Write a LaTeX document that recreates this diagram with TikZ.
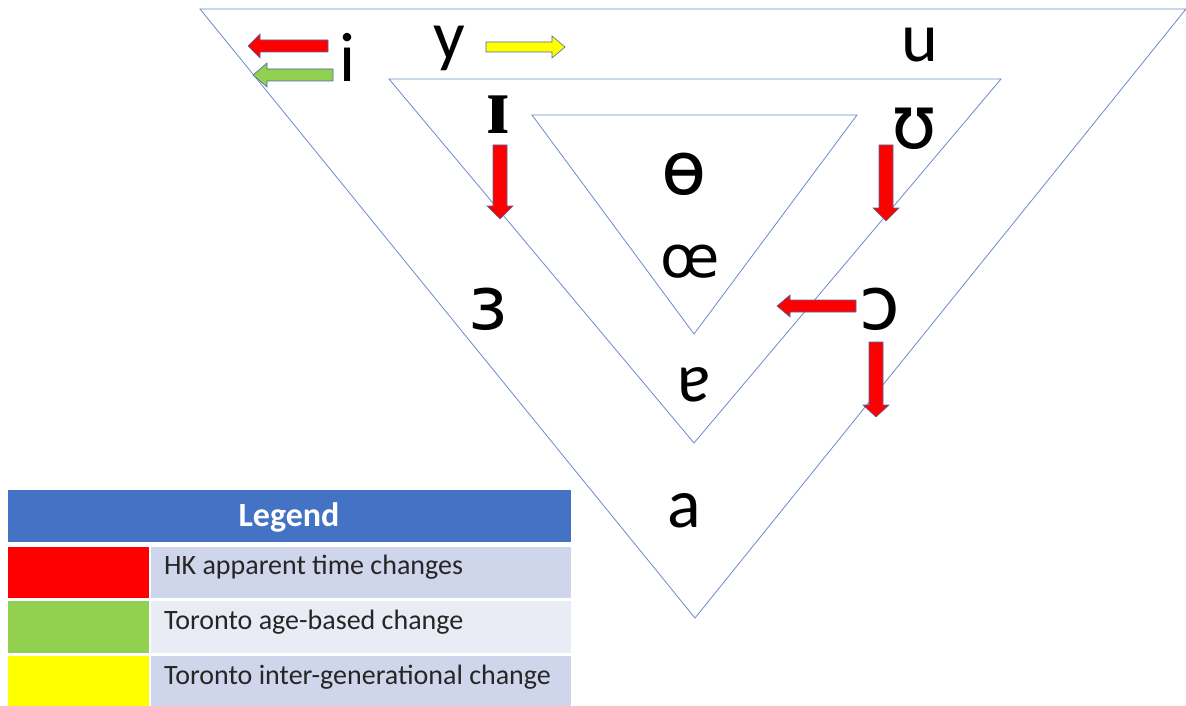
\documentclass[tikz,border=0pt]{standalone}
\usepackage{fontspec}
\setmainfont{Carlito}
\newfontfamily\ipafont{Carlito}
\newfontfamily\ipawide{DejaVu Sans}
\newfontfamily\serifipa{Liberation Serif}
\definecolor{triline}{HTML}{6A8BC8}
\definecolor{arrline}{HTML}{4A6AA8}
\definecolor{hkred}{HTML}{FF0000}
\definecolor{torgreen}{HTML}{92D050}
\definecolor{toryellow}{HTML}{FFFF00}
\definecolor{leghead}{HTML}{4472C4}
\definecolor{rowdark}{HTML}{CFD5EA}
\definecolor{rowlight}{HTML}{E9EBF5}
\tikzset{
  tri/.style={draw=triline, line width=0.8pt, line join=miter},
  vowel/.style={font=\ipafont\fontsize{70}{70}\selectfont, inner sep=0pt, text=black},
  widevowel/.style={vowel, font=\ipawide\fontsize{74}{74}\selectfont},
  blockarr/.style={draw=arrline, line width=0.6pt},
  legtext/.style={font=\fontsize{28}{28}\selectfont, text=black!85, anchor=west, inner sep=0pt}
}
\begin{document}
\begin{tikzpicture}[x=1pt,y=-1pt]
\useasboundingbox (0,0) rectangle (1186,706);
% triangles
\draw[tri] (200,9) -- (1186,9) -- (695,618) -- cycle;
\draw[tri] (389,79) -- (1001,79) -- (694,443) -- cycle;
\draw[tri] (532,115) -- (857,115) -- (694,334) -- cycle;
% vowels
\node[vowel] (i) at (348,57) {i};
\node[vowel] (y) at (449,48) {y};
\node[vowel] (u) at (920,45) {u};
\node[vowel, font=\serifipa\bfseries\fontsize{82}{82}\selectfont] (I) at (498,115) {ɪ};
\node[widevowel] (U) at (914,129) {ʊ};
\node[widevowel] (obar) at (684,174) {ɵ};
\node[vowel, font=\ipawide\fontsize{58}{58}\selectfont] (oe) at (690,262) {œ};
\node[widevowel] (E) at (488,309) {ɜ};
\node[widevowel] (O) at (880,309) {ɔ};
\node[vowel] (turna) at (694,385) {ɐ};
\node[vowel] (a) at (684,511) {a};
% block arrows
\filldraw[blockarr, fill=hkred] (328,40) -- (260,40) -- (260,34) -- (248,46) -- (260,58) -- (260,52) -- (328,52) -- cycle;
\filldraw[blockarr, fill=torgreen] (333,69) -- (267,69) -- (267,63) -- (253,75) -- (267,87) -- (267,81) -- (333,81) -- cycle;
\filldraw[blockarr, fill=toryellow] (486,42) -- (552,42) -- (552,36) -- (565,47) -- (552,58) -- (552,52) -- (486,52) -- cycle;
\filldraw[blockarr, fill=hkred] (493,145) -- (493,206) -- (487,206) -- (500,219) -- (513,206) -- (507,206) -- (507,145) -- cycle;
\filldraw[blockarr, fill=hkred] (879,145) -- (879,208) -- (873,208) -- (886,221) -- (899,208) -- (893,208) -- (893,145) -- cycle;
\filldraw[blockarr, fill=hkred] (856,300) -- (790,300) -- (790,295) -- (777,306) -- (790,317) -- (790,312) -- (856,312) -- cycle;
\filldraw[blockarr, fill=hkred] (869,342) -- (869,405) -- (863,405) -- (876,417) -- (889,405) -- (883,405) -- (883,342) -- cycle;
% legend
\fill[leghead] (8,490) rectangle (571,542);
\node[font=\bfseries\fontsize{34}{34}\selectfont, text=white] (legtitle) at (289,517) {Legend};
\fill[hkred] (8,547) rectangle (149,598);
\fill[rowdark] (151,547) rectangle (571,598);
\fill[torgreen] (8,601) rectangle (149,653);
\fill[rowlight] (151,601) rectangle (571,653);
\fill[toryellow] (8,656) rectangle (149,706);
\fill[rowdark] (151,656) rectangle (571,706);
\node[legtext] (l1) at (164,567) {HK apparent time changes};
\node[legtext] (l2) at (164,622) {Toronto age-based change};
\node[legtext] (l3) at (164,677) {Toronto inter-generational change};
\end{tikzpicture}
\end{document}
